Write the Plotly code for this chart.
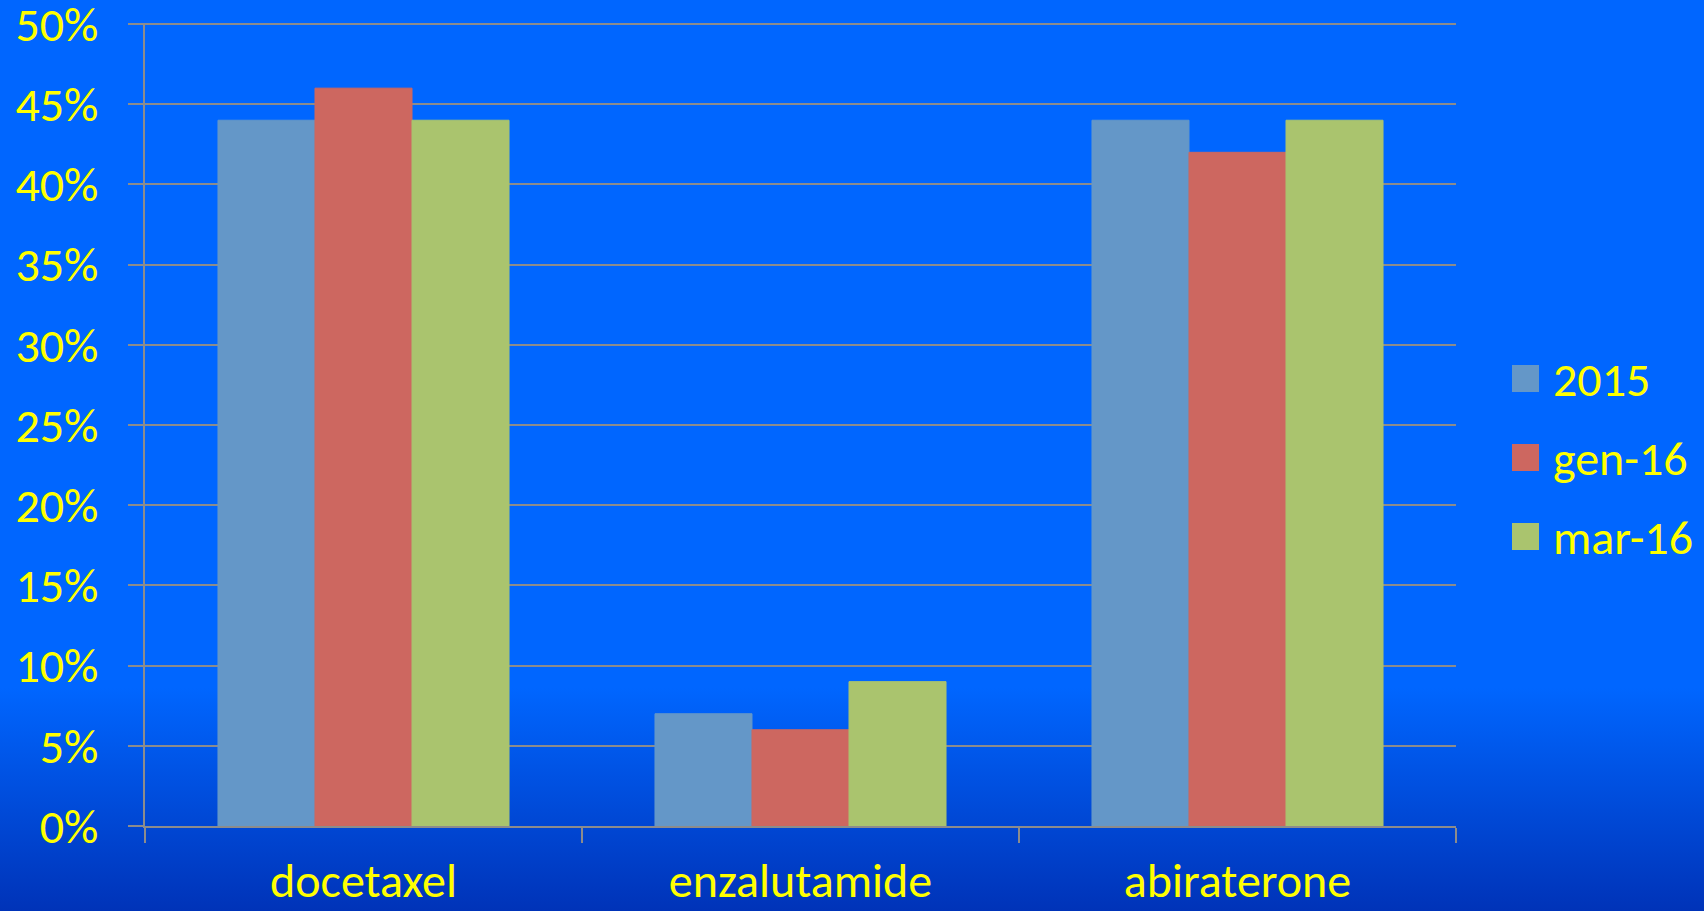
import base64
import plotly.graph_objects as go

categories = ["docetaxel", "enzalutamide", "abiraterone"]
series_names = ["2015", "gen-16", "mar-16"]
values_2015 = [0.44, 0.07, 0.44]
values_gen16 = [0.46, 0.06, 0.42]
values_mar16 = [0.44, 0.09, 0.44]
series_values = [values_2015, values_gen16, values_mar16]
colors = ["#6497C8", "#CD6760", "#AAC46E"]
y_ticks = [0, 0.05, 0.10, 0.15, 0.20, 0.25, 0.30, 0.35, 0.40, 0.45, 0.50]

W, H = 1704, 911
ML, MR, MT, MB = 145, 248, 24, 85
PW = W - ML - MR
PH = H - MT - MB
FONT = "Carlito, Lato, sans-serif"
FS = 48
YELLOW = "#FFFF00"
GRID = "#8C8C8C"

fig = go.Figure()
for name, vals, col in zip(series_names, series_values, colors):
    fig.add_trace(go.Bar(
        x=categories, y=vals, name=name,
        marker=dict(color=col, line=dict(color=col, width=1)),
        showlegend=False, hoverinfo="skip",
    ))

# gradient background (svg)
svg = (
    f'<svg xmlns="http://www.w3.org/2000/svg" width="{W}" height="{H}" viewBox="0 0 {W} {H}" preserveAspectRatio="none">'
    '<defs><linearGradient id="g" x1="0" y1="0" x2="0" y2="1">'
    '<stop offset="0" stop-color="#0066FF"/>'
    '<stop offset="0.755" stop-color="#0066FF"/>'
    '<stop offset="1" stop-color="#0033B8"/>'
    '</linearGradient></defs>'
    f'<rect x="0" y="0" width="{W}" height="{H}" fill="url(#g)"/></svg>'
)
uri = "data:image/svg+xml;base64," + base64.b64encode(svg.encode()).decode()

def px2x(px):
    return (px - ML) / PW

def px2y(py):
    return (H - MB - py) / PH

fig.add_layout_image(dict(
    source=uri, xref="paper", yref="paper",
    x=px2x(0), y=px2y(0), sizex=W / PW, sizey=H / PH,
    xanchor="left", yanchor="top", sizing="stretch", layer="below",
))

# top gridline (plotly drops the gridline at the range end)
shapes = [dict(
    type="line", xref="paper", yref="paper", x0=px2x(130), x1=1, y0=1, y1=1,
    line=dict(color=GRID, width=2), layer="below",
)]
# custom legend
annotations = []
legend_y = [378.5, 457.5, 536.5]
for name, col, cy in zip(series_names, colors, legend_y):
    shapes.append(dict(
        type="rect", xref="paper", yref="paper",
        x0=px2x(1512), x1=px2x(1539), y0=px2y(cy - 13.5), y1=px2y(cy + 13.5),
        fillcolor=col, line=dict(width=0),
    ))
    annotations.append(dict(
        text=name, xref="paper", yref="paper", x=px2x(1551), y=px2y(cy + 1),
        xanchor="left", yanchor="middle", showarrow=False,
        font=dict(family=FONT, size=FS, color=YELLOW),
    ))

fig.update_layout(
    width=W, height=H,
    margin=dict(l=ML, r=MR, t=MT, b=MB, pad=0, autoexpand=False),
    paper_bgcolor="#0066FF",
    plot_bgcolor="rgba(0,0,0,0)",
    barmode="group", bargap=0.334, bargroupgap=0,
    font=dict(family=FONT, size=FS, color=YELLOW),
    shapes=shapes, annotations=annotations,
    showlegend=False,
)
fig.update_xaxes(
    showgrid=False, showline=True, linecolor=GRID, linewidth=2,
    ticks="outside", tickson="boundaries", ticklen=15, tickwidth=2, tickcolor=GRID,
    tickfont=dict(family=FONT, size=FS, color=YELLOW), ticklabelstandoff=11,
    ticklabeloverflow="allow", automargin=False, fixedrange=True,
)
fig.update_yaxes(
    range=[0, 0.5], tickvals=y_ticks, tickformat=".0%",
    showgrid=True, gridcolor=GRID, gridwidth=2,
    showline=True, linecolor=GRID, linewidth=2, zeroline=False,
    ticks="outside", ticklen=15, tickwidth=2, tickcolor=GRID,
    tickfont=dict(family=FONT, size=FS, color=YELLOW), ticklabelstandoff=20,
    ticklabeloverflow="allow", automargin=False, fixedrange=True,
)

fig.write_html("out.html", config={"displayModeBar": False})
